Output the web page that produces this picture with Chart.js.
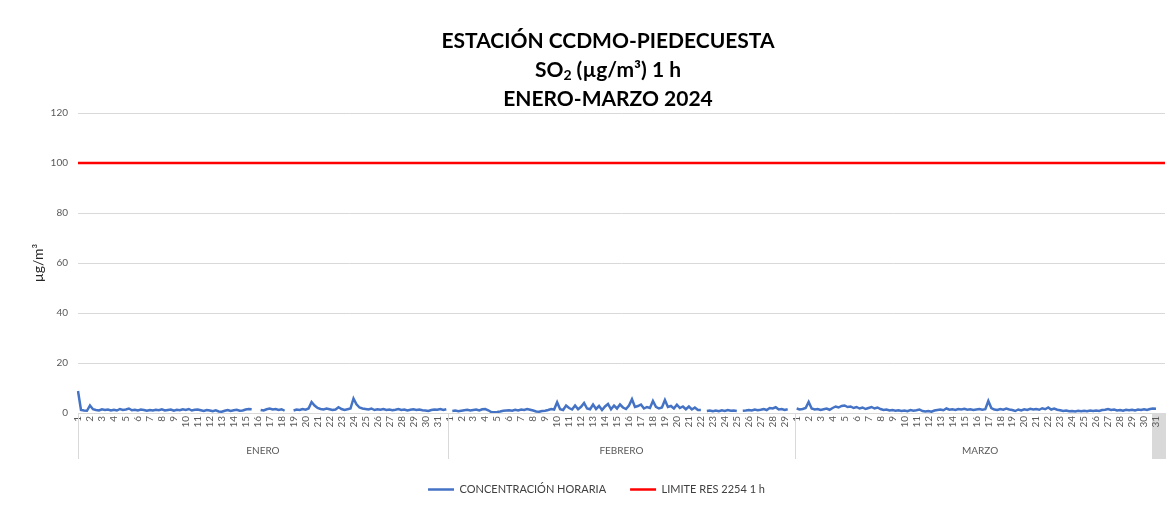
<!DOCTYPE html>
<html>
<head>
<meta charset="utf-8">
<script src="https://cdn.jsdelivr.net/npm/chart.js@4.4.1/dist/chart.umd.min.js"></script>
<style>
  html, body { margin: 0; padding: 0; background: #fff; }
  #wrap { width: 1169px; height: 505px; position: relative; }
</style>
</head>
<body>
<div id="wrap"><canvas id="so2Chart"></canvas></div>
<script>
// Meses y días del periodo
const meses = ['ENERO', 'FEBRERO', 'MARZO'];
const diasPorMes = [31, 29, 31];
// Muestras leídas por día (00 h, 06 h, 12 h, 18 h)
const muestrasPorDia = 4;

// Concentración de SO2 (µg/m³), 4 valores por día
const enero = [
    8.8, 1.2, 1.0, 0.9,   3.0, 1.5, 1.2, 1.0,   1.5, 1.2, 1.4, 1.0,   1.3, 1.0, 1.6, 1.2,
    1.4, 1.8, 1.1, 1.3,   1.0, 1.4, 1.2, 0.9,   1.2, 1.0, 1.3, 1.1,   1.5, 1.0, 1.2, 1.4,
    0.9, 1.3, 1.1, 1.5,   1.2, 1.6, 1.0, 1.3,   1.4, 1.1, 0.8, 1.2,   1.0, 0.7, 1.1, 0.6,
    0.5, 0.9, 1.2, 0.8,   1.1, 1.3, 0.9, 1.0,   1.4, 1.6, 1.5, null,  null, 1.2, 1.0, 1.5,
    1.8, 1.4, 1.6, 1.2,   1.5, 0.9, null, null, 1.0, 1.4, 1.2, 1.6,   1.3, 1.8, 4.4, 3.0,
    2.0, 1.6, 1.4, 1.8,   1.5, 1.2, 1.4, 2.3,   1.6, 1.2, 1.5, 1.8,   5.8, 3.5, 2.2, 1.8,
    1.6, 1.4, 1.8, 1.2,   1.5, 1.3, 1.6, 1.2,   1.4, 1.1, 1.3, 1.6,   1.2, 1.4, 1.0, 1.3,
    1.5, 1.2, 1.4, 1.1,   1.0, 0.8, 1.2, 1.4,   1.3, 1.6, 1.2, 1.5
];
const febrero = [
    null, 0.8, 1.0, 0.7,  0.9, 1.1, 1.3, 1.0,   1.2, 1.4, 1.0, 1.5,   1.6, 1.1, 0.4, 0.3,
    0.4, 0.6, 0.9, 1.0,   1.1, 0.9, 1.3, 1.0,   1.4, 1.2, 1.6, 1.3,   1.0, 0.6, 0.5, 0.8,
    0.9, 1.2, 1.6, 1.4,   4.3, 1.5, 1.2, 3.0,   2.0, 1.4, 3.0, 1.5,   2.5, 4.0, 1.8, 1.5,
    3.4, 1.6, 2.8, 1.2,   2.6, 3.6, 1.5, 3.0,   1.8, 3.4, 2.2, 1.6,   3.0, 5.5, 2.4, 2.8,
    3.4, 1.8, 2.4, 2.0,   4.8, 2.5, 1.8, 2.2,   5.2, 2.4, 2.8, 1.8,   3.3, 2.0, 2.6, 1.5,
    2.6, 1.4, 2.2, 1.2,   1.2, null, 0.8, 1.0,  0.7, 1.0, 0.7, 1.1,   0.8, 1.2, 0.9, 1.0,
    0.8, null, 0.9, 1.0,  1.2, 1.0, 1.4, 1.1,   1.3, 1.6, 1.2, 2.0,   1.8, 2.3, 1.4, 1.6,
    1.2, 1.5, null, null
];
const marzo = [
    1.8, 1.4, 1.6, 2.0,   4.4, 1.8, 1.4, 1.6,   1.2, 1.5, 1.8, 1.3,   2.0, 2.6, 2.2, 2.8,
    3.0, 2.4, 2.6, 2.0,   2.4, 1.8, 2.2, 1.6,   2.0, 2.4, 1.8, 2.2,   1.6, 1.2, 1.4, 1.0,
    1.2, 0.9, 1.1, 0.8,   1.0, 0.7, 1.2, 0.9,   1.1, 1.4, 0.8, 0.6,   0.8, 0.5, 1.0, 1.2,
    1.4, 1.1, 1.8, 1.3,   1.5, 1.2, 1.6, 1.4,   1.7, 1.3, 1.5, 1.2,   1.4, 1.6, 1.3, 1.5,
    4.8, 2.0, 1.4, 1.2,   1.6, 1.3, 1.8, 1.4,   1.2, 0.8, 1.4, 1.0,   1.5, 1.2, 1.7, 1.4,
    1.6, 1.3, 1.9, 1.5,   2.2, 1.4, 1.8, 1.3,   1.1, 0.8, 1.0, 0.7,   0.8, 0.6, 0.9, 0.7,
    0.9, 0.7, 1.0, 0.8,   1.0, 0.8, 1.2, 1.3,   1.6, 1.2, 1.4, 1.0,   1.2, 0.9, 1.3, 1.1,
    1.3, 1.0, 1.4, 1.2,   1.5, 1.2, 1.6, 1.8,   1.7, null, null, null
];

// Límite normativo (Res. 2254, 1 h)
const limite = 100;

// Ticks del eje Y
const yMin = 0;
const yMax = 120;
const yPaso = 20;

// Construir etiquetas: una por muestra, número de día sólo en la primera muestra
const etiquetas = [];
const textoTick = [];
const inicioMes = [];
meses.forEach((mes, m) => {
    inicioMes.push(etiquetas.length);
    for (let d = 1; d <= diasPorMes[m]; d++) {
        for (let h = 0; h < muestrasPorDia; h++) {
            etiquetas.push(mes + ' ' + d + ' ' + (h * 6) + 'h');
            textoTick.push(h === 0 ? String(d) : '');
        }
    }
});
inicioMes.push(etiquetas.length);

const concentracion = [].concat(enero, febrero, marzo);
const lineaLimite = etiquetas.map(() => limite);

const grisTexto = '#595959';
const grisLinea = '#d9d9d9';
const fuente = 'Lato, "Open Sans", sans-serif';

// borde entre dos meses (punto medio entre la última y la primera muestra)
function bordeMes(chart, m) {
    const x = chart.scales.x;
    const area = chart.chartArea;
    if (m === 0) return area.left;
    if (m === meses.length) return area.right;
    return (x.getPixelForValue(inicioMes[m] - 1) + x.getPixelForValue(inicioMes[m])) / 2;
}

// Título, separadores de meses y nombres de mes
const decoraciones = {
    id: 'decoraciones',
    beforeDraw(chart) {
        // caja gris del último día (queda detrás de la etiqueta "31")
        const ctx = chart.ctx;
        const x = chart.scales.x;
        const area = chart.chartArea;
        const ultimo = etiquetas.length - muestrasPorDia;
        const x0 = x.getPixelForValue(ultimo) - 4;
        ctx.save();
        ctx.fillStyle = grisLinea;
        ctx.fillRect(x0, area.bottom, area.right + 1 - x0, 46);
        ctx.restore();
    },
    afterDraw(chart) {
        const ctx = chart.ctx;
        const area = chart.chartArea;
        const yTop = area.bottom;
        const yBot = area.bottom + 46;
        ctx.save();

        // separadores
        ctx.strokeStyle = grisLinea;
        ctx.lineWidth = 1;
        for (let m = 0; m < meses.length; m++) {
            const px = bordeMes(chart, m);
            ctx.beginPath();
            ctx.moveTo(Math.round(px) + 0.5, yTop);
            ctx.lineTo(Math.round(px) + 0.5, yBot);
            ctx.stroke();
        }

        // nombres de mes
        ctx.fillStyle = grisTexto;
        ctx.font = '10px ' + fuente;
        ctx.textAlign = 'center';
        ctx.textBaseline = 'middle';
        for (let m = 0; m < meses.length; m++) {
            const a = bordeMes(chart, m);
            const b = bordeMes(chart, m + 1);
            ctx.fillText(meses[m], (a + b) / 2, area.bottom + 38);
        }

        // título en tres líneas
        const cx = 608;
        ctx.fillStyle = '#000';
        ctx.textBaseline = 'middle';
        ctx.font = 'bold 21px ' + fuente;
        ctx.textAlign = 'center';
        ctx.fillText('ESTACIÓN CCDMO-PIEDECUESTA', cx, 41);
        ctx.fillText('ENERO-MARZO 2024', cx, 99);

        const partes = [
            { t: 'SO', f: 'bold 21px ' + fuente, dy: 0 },
            { t: '2', f: 'bold 14px ' + fuente, dy: 5 },
            { t: ' (µg/m³) 1 h', f: 'bold 21px ' + fuente, dy: 0 }
        ];
        let ancho = 0;
        partes.forEach(p => { ctx.font = p.f; p.w = ctx.measureText(p.t).width; ancho += p.w; });
        let px = cx - ancho / 2;
        ctx.textAlign = 'left';
        partes.forEach(p => {
            ctx.font = p.f;
            ctx.fillText(p.t, px, 70 + p.dy);
            px += p.w;
        });
        ctx.restore();
    }
};

new Chart(document.getElementById('so2Chart'), {
    type: 'line',
    data: {
        labels: etiquetas,
        datasets: [{
            label: 'CONCENTRACIÓN HORARIA',
            data: concentracion,
            borderColor: '#4472C4',
            backgroundColor: '#4472C4',
            borderWidth: 2.5,
            pointRadius: 0,
            tension: 0,
            spanGaps: false
        }, {
            label: 'LIMITE RES 2254 1 h',
            data: lineaLimite,
            borderColor: '#FF0000',
            backgroundColor: '#FF0000',
            borderWidth: 2.5,
            pointRadius: 0,
            tension: 0
        }]
    },
    options: {
        responsive: true,
        maintainAspectRatio: false,
        animation: false,
        layout: { padding: { top: 113, left: 28, right: 4, bottom: 0 } },
        scales: {
            x: {
                type: 'category',
                offset: false,
                grid: { display: false, drawTicks: false },
                border: { display: false },
                ticks: {
                    autoSkip: false,
                    minRotation: 90,
                    maxRotation: 90,
                    padding: 3,
                    color: grisTexto,
                    font: { family: fuente, size: 10 },
                    callback: (v, i) => textoTick[i]
                },
                afterFit: s => { s.height = 47; s.paddingLeft = 0; s.paddingRight = 0; }
            },
            y: {
                min: yMin,
                max: yMax,
                ticks: { stepSize: yPaso, color: grisTexto, padding: 10, font: { family: fuente, size: 10 } },
                grid: { color: grisLinea, drawTicks: false },
                border: { display: false },
                title: { display: true, text: 'µg/m³', color: '#262626', font: { family: fuente, size: 14 }, padding: 2 },
                afterFit: s => { s.width = 50; }
            }
        },
        plugins: {
            legend: {
                position: 'bottom',
                labels: {
                    usePointStyle: true,
                    pointStyle: 'line',
                    pointStyleWidth: 26,
                    padding: 24,
                    color: '#404040',
                    font: { family: fuente, size: 11 }
                }
            },
            tooltip: { enabled: false }
        }
    },
    plugins: [decoraciones]
});
</script>
</body>
</html>
